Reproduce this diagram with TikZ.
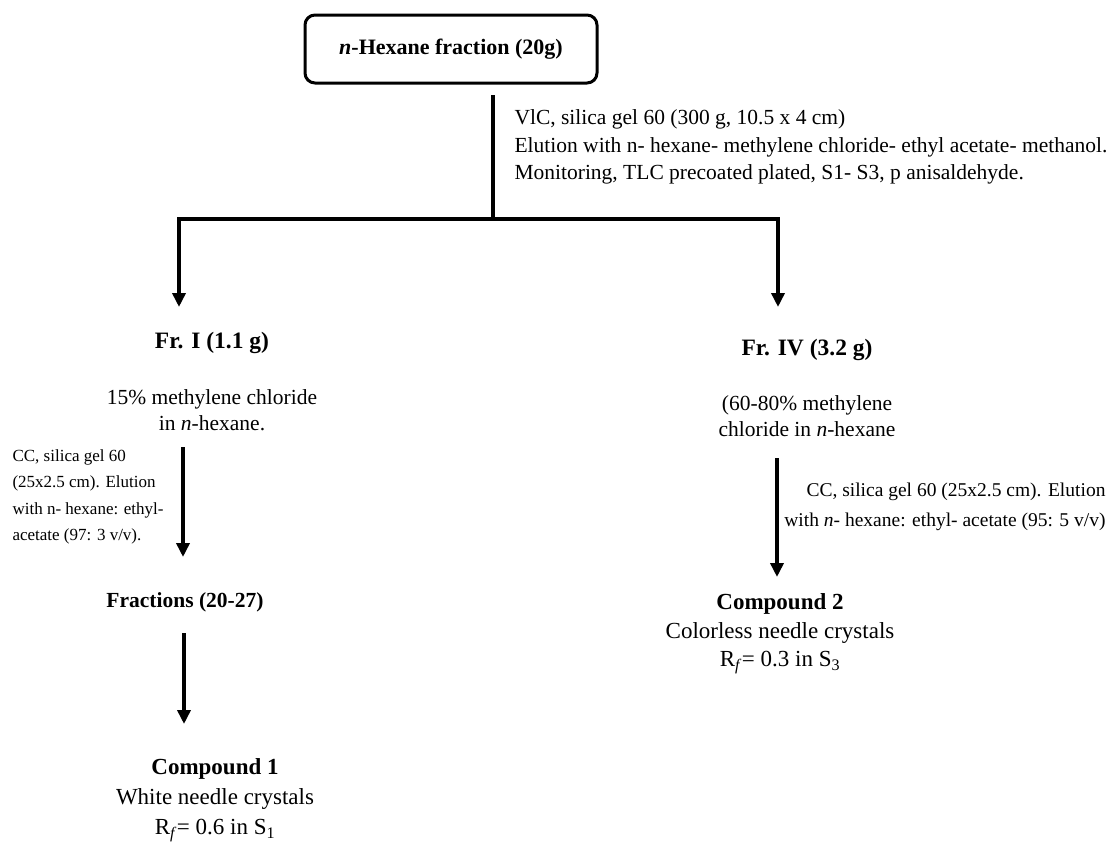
\documentclass[tikz,border=0pt]{standalone}
\usepackage{fontspec}
\setmainfont{Liberation Serif}
\usetikzlibrary{arrows.meta}

\begin{document}
\begin{tikzpicture}[x=1pt,y=-1pt,
    trunk/.style={line width=4pt},
    flow/.style={line width=4pt,-{Triangle[width=13pt,length=14pt]}},
    startbox/.style={draw,line width=3pt,rounded corners=10pt,minimum width=292pt,minimum height=68pt,
        font=\fontsize{22}{26}\selectfont\bfseries},
    fraction/.style={font=\fontsize{23.5}{28}\selectfont\bfseries},
    eluent/.style={align=center,font=\fontsize{21.5}{26}\selectfont},
    method/.style={align=left,font=\fontsize{21.5}{27.5}\selectfont},
    compound/.style={align=center,font=\fontsize{23}{30}\selectfont}]

    \useasboundingbox (0,0) rectangle (1111,844);

    % starting material
    \node[startbox] (hexane) at (451,49) {\textit{n}-Hexane fraction (20g)};
    \node[method,anchor=west] (vlc) at (511,147) {VlC, silica gel 60 (300 g, 10.5 x 4 cm)\\
        Elution with n- hexane- methylene chloride- ethyl acetate- methanol.\\
        Monitoring, TLC precoated plated, S1- S3, p anisaldehyde.};

    % branch points
    \coordinate (stem) at (493,95);
    \coordinate (split) at (493,219);
    \coordinate (leftin) at (179,307);
    \coordinate (rightin) at (778,307);

    % left branch
    \node[fraction] (frI) at (212,343) {Fr. I (1.1 g)};
    \node[eluent] (frIsolv) at (212,410) {15\% methylene chloride\\in \textit{n}-hexane.};
    \coordinate (ccIa) at (183,447);
    \coordinate (ccIb) at (183,557);
    \node[method,anchor=west,font=\fontsize{17}{26.5}\selectfont] (ccI) at (9,497) {CC, silica gel 60\\
        (25x2.5 cm). Elution\\with n- hexane: ethyl-\\acetate (97: 3 v/v).};
    \node[fraction,font=\fontsize{21.5}{26}\selectfont\bfseries] (frac) at (185,602) {Fractions (20-27)};
    \coordinate (fracout) at (184,633);
    \coordinate (cpdIin) at (184,724);
    \node[compound] (cpdI) at (215,800) {\textbf{Compound 1}\\White needle crystals\\
        R\textsubscript{\textit{f}}= 0.6 in S\textsubscript{1}};

    % right branch
    \node[fraction] (frIV) at (807,350) {Fr. IV (3.2 g)};
    \node[eluent] (frIVsolv) at (807,416) {(60-80\% methylene\\chloride in \textit{n}-hexane};
    \coordinate (ccIVa) at (777,458);
    \coordinate (ccIVb) at (777,577);
    \node[method,align=right,anchor=east,font=\fontsize{19.5}{30}\selectfont] (ccIV) at (1109,507)
        {CC, silica gel 60 (25x2.5 cm). Elution\\with \textit{n}- hexane: ethyl- acetate (95: 5 v/v)};
    \node[compound,font=\fontsize{23}{28.5}\selectfont] (cpdII) at (780,634) {\textbf{Compound 2}\\
        Colorless needle crystals\\R\textsubscript{\textit{f}}= 0.3 in S\textsubscript{3}};

    % connectors
    \draw[trunk] (stem) -- (split);
    \draw[flow] (split) -| (leftin);
    \draw[flow] (split) -| (rightin);
    \draw[flow] (ccIa) -- (ccIb);
    \draw[flow] (fracout) -- (cpdIin);
    \draw[flow] (ccIVa) -- (ccIVb);
\end{tikzpicture}
\end{document}
